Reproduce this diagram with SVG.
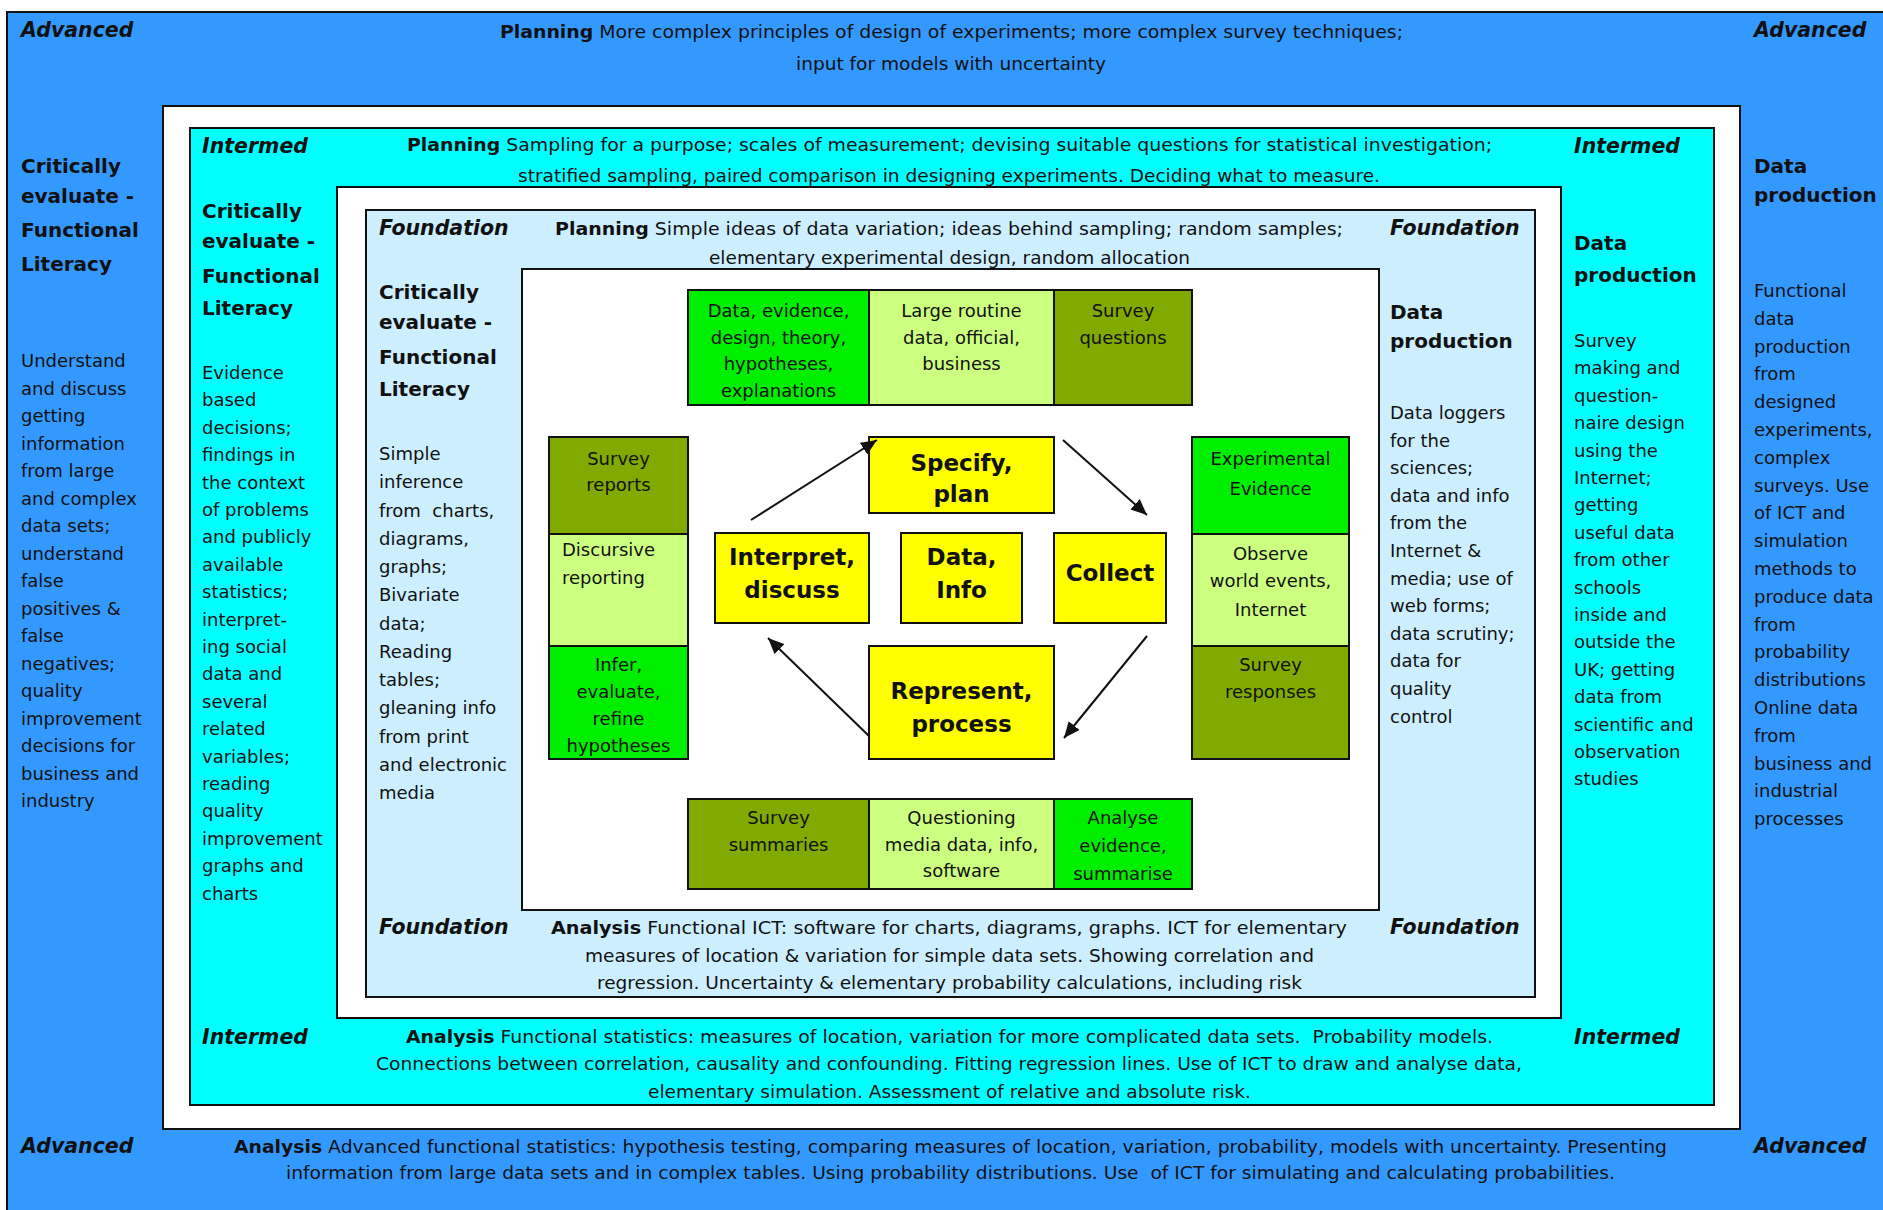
<svg xmlns="http://www.w3.org/2000/svg" width="1883" height="1210" viewBox="0 0 1883 1210">
<style>
text{font-family:"DejaVu Sans","Liberation Sans",sans-serif;font-size:18px;fill:#111}
.h{font-weight:bold;font-size:20px}
.lv{font-weight:bold;font-style:italic;font-size:20.5px}
.y{font-weight:bold;font-size:23px}
.c{text-anchor:middle}
.b{font-weight:bold}
.fr{stroke:#111;stroke-width:2}
.bx{stroke:#111;stroke-width:2}
.gr{fill:#00ee00}.lg{fill:#ccff80}.ol{fill:#80aa00}.ye{fill:#ffff00}
.ar{stroke:#111;stroke-width:2;fill:none;marker-end:url(#ah)}
</style>
<defs>
<marker id="ah" markerUnits="userSpaceOnUse" markerWidth="18" markerHeight="14" refX="16" refY="7" orient="auto">
<path d="M0,0 L16,7 L0,14 Z" fill="#111"/>
</marker>
</defs>
<rect x="0" y="0" width="1883" height="1210" fill="#fff"/>
<g id="frames">
<rect x="7" y="12" width="1890" height="1220" fill="#3399ff" class="fr"/>
<rect x="163" y="106" width="1577" height="1023" fill="#fff" class="fr"/>
<rect x="190" y="128" width="1524" height="977" fill="#00ffff" class="fr"/>
<rect x="337" y="187" width="1224" height="831" fill="#fff" class="fr"/>
<rect x="366" y="210" width="1169" height="787" fill="#cceeff" class="fr"/>
<rect x="522" y="269" width="857" height="641" fill="#fff" class="fr"/>
</g>
<g id="level-labels">
<text x="21" y="37" class="lv">Advanced</text>
<text x="1754" y="37" class="lv">Advanced</text>
<text x="21" y="1153" class="lv">Advanced</text>
<text x="1754" y="1153" class="lv">Advanced</text>
<text x="202" y="153" class="lv">Intermed</text>
<text x="1574" y="153" class="lv">Intermed</text>
<text x="202" y="1044" class="lv">Intermed</text>
<text x="1574" y="1044" class="lv">Intermed</text>
<text x="379" y="235" class="lv">Foundation</text>
<text x="1390" y="235" class="lv">Foundation</text>
<text x="379" y="934" class="lv">Foundation</text>
<text x="1390" y="934" class="lv">Foundation</text>
</g>
<g id="planning-advanced">
<text x="500" y="38" textLength="903" lengthAdjust="spacingAndGlyphs"><tspan class="b">Planning</tspan> More complex principles of design of experiments; more complex survey techniques;</text>
<text x="796" y="70" textLength="310" lengthAdjust="spacingAndGlyphs">input for models with uncertainty</text>
</g>
<g id="planning-intermed">
<text x="407" y="151" textLength="1085" lengthAdjust="spacingAndGlyphs"><tspan class="b">Planning</tspan> Sampling for a purpose; scales of measurement; devising suitable questions for statistical investigation;</text>
<text x="518" y="182" textLength="862" lengthAdjust="spacingAndGlyphs">stratified sampling, paired comparison in designing experiments. Deciding what to measure.</text>
</g>
<g id="planning-foundation">
<text x="555" y="235" textLength="788" lengthAdjust="spacingAndGlyphs"><tspan class="b">Planning</tspan> Simple ideas of data variation; ideas behind sampling; random samples;</text>
<text x="709" y="264" textLength="481" lengthAdjust="spacingAndGlyphs">elementary experimental design, random allocation</text>
</g>
<g id="analysis-foundation">
<text x="551" y="934" textLength="796" lengthAdjust="spacingAndGlyphs"><tspan class="b">Analysis</tspan> Functional ICT: software for charts, diagrams, graphs. ICT for elementary</text>
<text x="585" y="962" textLength="729" lengthAdjust="spacingAndGlyphs">measures of location &amp; variation for simple data sets. Showing correlation and</text>
<text x="597" y="989" textLength="705" lengthAdjust="spacingAndGlyphs">regression. Uncertainty &amp; elementary probability calculations, including risk</text>
</g>
<g id="analysis-intermed">
<text x="406" y="1043" textLength="1087" lengthAdjust="spacingAndGlyphs" xml:space="preserve"><tspan class="b">Analysis</tspan> Functional statistics: measures of location, variation for more complicated data sets.  Probability models.</text>
<text x="376" y="1070" textLength="1146" lengthAdjust="spacingAndGlyphs">Connections between correlation, causality and confounding. Fitting regression lines. Use of ICT to draw and analyse data,</text>
<text x="648" y="1098" textLength="603" lengthAdjust="spacingAndGlyphs">elementary simulation. Assessment of relative and absolute risk.</text>
</g>
<g id="analysis-advanced">
<text x="234" y="1153" textLength="1433" lengthAdjust="spacingAndGlyphs"><tspan class="b">Analysis</tspan> Advanced functional statistics: hypothesis testing, comparing measures of location, variation, probability, models with uncertainty. Presenting</text>
<text x="286" y="1179" textLength="1329" lengthAdjust="spacingAndGlyphs" xml:space="preserve">information from large data sets and in complex tables. Using probability distributions. Use  of ICT for simulating and calculating probabilities.</text>
</g>
<g id="critical-advanced">
<text class="h"><tspan x="21" y="173">Critically</tspan><tspan x="21" y="203">evaluate -</tspan><tspan x="21" y="237">Functional</tspan><tspan x="21" y="271">Literacy</tspan></text>
<text><tspan x="21" y="367">Understand</tspan><tspan x="21" dy="27.5">and discuss</tspan><tspan x="21" dy="27.5">getting</tspan><tspan x="21" dy="27.5">information</tspan><tspan x="21" dy="27.5">from large</tspan><tspan x="21" dy="27.5">and complex</tspan><tspan x="21" dy="27.5">data sets;</tspan><tspan x="21" dy="27.5">understand</tspan><tspan x="21" dy="27.5">false</tspan><tspan x="21" dy="27.5">positives &amp;</tspan><tspan x="21" dy="27.5">false</tspan><tspan x="21" dy="27.5">negatives;</tspan><tspan x="21" dy="27.5">quality</tspan><tspan x="21" dy="27.5">improvement</tspan><tspan x="21" dy="27.5">decisions for</tspan><tspan x="21" dy="27.5">business and</tspan><tspan x="21" dy="27.5">industry</tspan></text>
</g>
<g id="critical-intermed">
<text class="h"><tspan x="202" y="218">Critically</tspan><tspan x="202" y="248">evaluate -</tspan><tspan x="202" y="283">Functional</tspan><tspan x="202" y="315">Literacy</tspan></text>
<text><tspan x="202" y="379">Evidence</tspan><tspan x="202" dy="27.4">based</tspan><tspan x="202" dy="27.4">decisions;</tspan><tspan x="202" dy="27.4">findings in</tspan><tspan x="202" dy="27.4">the context</tspan><tspan x="202" dy="27.4">of problems</tspan><tspan x="202" dy="27.4">and publicly</tspan><tspan x="202" dy="27.4">available</tspan><tspan x="202" dy="27.4">statistics;</tspan><tspan x="202" dy="27.4">interpret-</tspan><tspan x="202" dy="27.4">ing social</tspan><tspan x="202" dy="27.4">data and</tspan><tspan x="202" dy="27.4">several</tspan><tspan x="202" dy="27.4">related</tspan><tspan x="202" dy="27.4">variables;</tspan><tspan x="202" dy="27.4">reading</tspan><tspan x="202" dy="27.4">quality</tspan><tspan x="202" dy="27.4">improvement</tspan><tspan x="202" dy="27.4">graphs and</tspan><tspan x="202" dy="27.4">charts</tspan></text>
</g>
<g id="critical-foundation">
<text class="h"><tspan x="379" y="299">Critically</tspan><tspan x="379" y="329">evaluate -</tspan><tspan x="379" y="364">Functional</tspan><tspan x="379" y="396">Literacy</tspan></text>
<text xml:space="preserve"><tspan x="379" y="460">Simple</tspan><tspan x="379" dy="28.25">inference</tspan><tspan x="379" dy="28.25">from  charts,</tspan><tspan x="379" dy="28.25">diagrams,</tspan><tspan x="379" dy="28.25">graphs;</tspan><tspan x="379" dy="28.25">Bivariate</tspan><tspan x="379" dy="28.25">data;</tspan><tspan x="379" dy="28.25">Reading</tspan><tspan x="379" dy="28.25">tables;</tspan><tspan x="379" dy="28.25">gleaning info</tspan><tspan x="379" dy="28.25">from print</tspan><tspan x="379" dy="28.25">and electronic</tspan><tspan x="379" dy="28.25">media</tspan></text>
</g>
<g id="production-foundation">
<text class="h"><tspan x="1390" y="319">Data</tspan><tspan x="1390" y="348">production</tspan></text>
<text><tspan x="1390" y="419">Data loggers</tspan><tspan x="1390" dy="27.6">for the</tspan><tspan x="1390" dy="27.6">sciences;</tspan><tspan x="1390" dy="27.6">data and info</tspan><tspan x="1390" dy="27.6">from the</tspan><tspan x="1390" dy="27.6">Internet &amp;</tspan><tspan x="1390" dy="27.6">media; use of</tspan><tspan x="1390" dy="27.6">web forms;</tspan><tspan x="1390" dy="27.6">data scrutiny;</tspan><tspan x="1390" dy="27.6">data for</tspan><tspan x="1390" dy="27.6">quality</tspan><tspan x="1390" dy="27.6">control</tspan></text>
</g>
<g id="production-intermed">
<text class="h"><tspan x="1574" y="250">Data</tspan><tspan x="1574" y="282">production</tspan></text>
<text><tspan x="1574" y="347">Survey</tspan><tspan x="1574" dy="27.4">making and</tspan><tspan x="1574" dy="27.4">question-</tspan><tspan x="1574" dy="27.4">naire design</tspan><tspan x="1574" dy="27.4">using the</tspan><tspan x="1574" dy="27.4">Internet;</tspan><tspan x="1574" dy="27.4">getting</tspan><tspan x="1574" dy="27.4">useful data</tspan><tspan x="1574" dy="27.4">from other</tspan><tspan x="1574" dy="27.4">schools</tspan><tspan x="1574" dy="27.4">inside and</tspan><tspan x="1574" dy="27.4">outside the</tspan><tspan x="1574" dy="27.4">UK; getting</tspan><tspan x="1574" dy="27.4">data from</tspan><tspan x="1574" dy="27.4">scientific and</tspan><tspan x="1574" dy="27.4">observation</tspan><tspan x="1574" dy="27.4">studies</tspan></text>
</g>
<g id="production-advanced">
<text class="h"><tspan x="1754" y="173">Data</tspan><tspan x="1754" y="202">production</tspan></text>
<text><tspan x="1754" y="297">Functional</tspan><tspan x="1754" dy="27.8">data</tspan><tspan x="1754" dy="27.8">production</tspan><tspan x="1754" dy="27.8">from</tspan><tspan x="1754" dy="27.8">designed</tspan><tspan x="1754" dy="27.8">experiments,</tspan><tspan x="1754" dy="27.8">complex</tspan><tspan x="1754" dy="27.8">surveys. Use</tspan><tspan x="1754" dy="27.8">of ICT and</tspan><tspan x="1754" dy="27.8">simulation</tspan><tspan x="1754" dy="27.8">methods to</tspan><tspan x="1754" dy="27.8">produce data</tspan><tspan x="1754" dy="27.8">from</tspan><tspan x="1754" dy="27.8">probability</tspan><tspan x="1754" dy="27.8">distributions</tspan><tspan x="1754" dy="27.8">Online data</tspan><tspan x="1754" dy="27.8">from</tspan><tspan x="1754" dy="27.8">business and</tspan><tspan x="1754" dy="27.8">industrial</tspan><tspan x="1754" dy="27.8">processes</tspan></text>
</g>
<g id="box-data-evidence">
<rect x="688" y="290" width="181" height="115" class="bx gr"/>
<text class="c"><tspan x="778.5" y="317">Data, evidence,</tspan><tspan x="778.5" y="344">design, theory,</tspan><tspan x="778.5" y="370">hypotheses,</tspan><tspan x="778.5" y="397">explanations</tspan></text>
</g>
<g id="box-large-routine">
<rect x="869" y="290" width="185" height="115" class="bx lg"/>
<text class="c"><tspan x="961.5" y="317">Large routine</tspan><tspan x="961.5" y="344">data, official,</tspan><tspan x="961.5" y="370">business</tspan></text>
</g>
<g id="box-survey-questions">
<rect x="1054" y="290" width="138" height="115" class="bx ol"/>
<text class="c"><tspan x="1123" y="317">Survey</tspan><tspan x="1123" y="344">questions</tspan></text>
</g>
<g id="box-survey-reports">
<rect x="549" y="437" width="139" height="97" class="bx ol"/>
<text class="c"><tspan x="618.5" y="465">Survey</tspan><tspan x="618.5" y="491">reports</tspan></text>
</g>
<g id="box-discursive">
<rect x="549" y="534" width="139" height="112" class="bx lg"/>
<text><tspan x="562" y="556">Discursive</tspan><tspan x="562" y="584">reporting</tspan></text>
</g>
<g id="box-infer">
<rect x="549" y="646" width="139" height="113" class="bx gr"/>
<text class="c"><tspan x="618.5" y="671">Infer,</tspan><tspan x="618.5" y="698">evaluate,</tspan><tspan x="618.5" y="725">refine</tspan><tspan x="618.5" y="752">hypotheses</tspan></text>
</g>
<g id="box-experimental">
<rect x="1192" y="437" width="157" height="97" class="bx gr"/>
<text class="c"><tspan x="1270.5" y="465">Experimental</tspan><tspan x="1270.5" y="495">Evidence</tspan></text>
</g>
<g id="box-observe">
<rect x="1192" y="534" width="157" height="112" class="bx lg"/>
<text class="c"><tspan x="1270.5" y="560">Observe</tspan><tspan x="1270.5" y="587">world events,</tspan><tspan x="1270.5" y="616">Internet</tspan></text>
</g>
<g id="box-survey-responses">
<rect x="1192" y="646" width="157" height="113" class="bx ol"/>
<text class="c"><tspan x="1270.5" y="671">Survey</tspan><tspan x="1270.5" y="698">responses</tspan></text>
</g>
<g id="box-survey-summaries">
<rect x="688" y="799" width="181" height="90" class="bx ol"/>
<text class="c"><tspan x="778.5" y="824">Survey</tspan><tspan x="778.5" y="851">summaries</tspan></text>
</g>
<g id="box-questioning">
<rect x="869" y="799" width="185" height="90" class="bx lg"/>
<text class="c"><tspan x="961.5" y="824">Questioning</tspan><tspan x="961.5" y="851">media data, info,</tspan><tspan x="961.5" y="877">software</tspan></text>
</g>
<g id="box-analyse">
<rect x="1054" y="799" width="138" height="90" class="bx gr"/>
<text class="c"><tspan x="1123" y="824">Analyse</tspan><tspan x="1123" y="852">evidence,</tspan><tspan x="1123" y="880">summarise</tspan></text>
</g>
<g id="node-specify">
<rect x="869" y="437" width="185" height="76" class="bx ye"/>
<text class="c y"><tspan x="961.5" y="471">Specify,</tspan><tspan x="961.5" y="502">plan</tspan></text>
</g>
<g id="node-interpret">
<rect x="715" y="533" width="154" height="90" class="bx ye"/>
<text class="c y"><tspan x="792" y="565">Interpret,</tspan><tspan x="792" y="598">discuss</tspan></text>
</g>
<g id="node-data">
<rect x="901" y="533" width="121" height="90" class="bx ye"/>
<text class="c y"><tspan x="961.5" y="565">Data,</tspan><tspan x="961.5" y="598">Info</tspan></text>
</g>
<g id="node-collect">
<rect x="1054" y="533" width="112" height="90" class="bx ye"/>
<text class="c y" x="1110" y="581">Collect</text>
</g>
<g id="node-represent">
<rect x="869" y="646" width="185" height="113" class="bx ye"/>
<text class="c y"><tspan x="961.5" y="699">Represent,</tspan><tspan x="961.5" y="732">process</tspan></text>
</g>
<g id="connectors">
<line x1="751" y1="520" x2="877" y2="440" class="ar"/>
<line x1="1063" y1="440" x2="1147" y2="515" class="ar"/>
<line x1="1147" y1="636" x2="1064" y2="738" class="ar"/>
<line x1="869" y1="736" x2="768" y2="638" class="ar"/>
</g>
</svg>
